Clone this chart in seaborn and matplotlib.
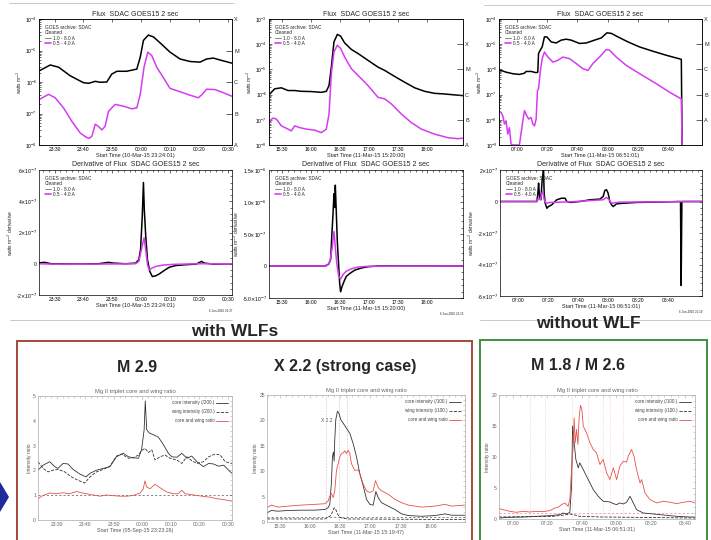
import numpy as np
import pandas as pd
import matplotlib.pyplot as plt
import seaborn as sns
from matplotlib.patches import Rectangle, Polygon
from matplotlib.lines import Line2D
from matplotlib.ticker import AutoMinorLocator

sns.set_theme(style="white")
plt.rcParams['font.family'] = ['Liberation Sans', 'DejaVu Sans']

W, H = 711, 540

# ---------------- GOES flux (W m^-2), time in minutes after the start hour ----------------
# M2.9, 10-Mar-15 (minutes after 23:00)
t1_hi = [24.8, 28.5, 31.4, 35.4, 40.0, 41.8, 44.1, 45.8, 48.1, 49.8, 51.6, 55.0, 58.5,
         59.7, 60.8, 62.5, 64.3, 66.6, 70.0, 73.5, 77.0, 80.4, 82.7, 85.0, 87.3, 91.4]
f1_hi = [2.29e-6, 3.47e-6, 2.95e-6, 1.58e-6, 9.5e-7, 9.1e-7, 1.05e-6, 9.8e-7, 1.0e-6,
         1.78e-6, 2.19e-6, 2.19e-6, 2.57e-6, 6.17e-6, 2.09e-5, 3.09e-5, 2.69e-5, 1.74e-5,
         8.9e-6, 5.37e-6, 4.47e-6, 4.27e-6, 5.37e-6, 5.75e-6, 5.01e-6, 3.98e-6]
t1_lo = [24.8, 27.9, 30.2, 33.1, 36.0, 38.9, 40.6, 41.8, 42.9, 44.1, 45.2, 46.4, 47.5,
         48.7, 51.0, 53.9, 56.8, 58.5, 59.7, 61.0, 62.3, 63.7, 65.4, 67.7, 70.0, 73.5,
         77.0, 79.8, 81.0, 82.7, 85.6, 88.5, 91.4]
f1_lo = [2.82e-7, 4.07e-7, 3.16e-7, 1.51e-7, 5.6e-8, 2.4e-8, 1.86e-8, 1.62e-8, 1.86e-8,
         4.57e-8, 3.89e-8, 3.02e-8, 3.89e-8, 1.17e-7, 1.95e-7, 1.70e-7, 1.41e-7, 1.51e-7,
         4.07e-7, 2.95e-6, 8.9e-6, 6.9e-6, 2.95e-6, 1.38e-6, 6.3e-7, 4.9e-7, 3.8e-7,
         3.16e-7, 3.9e-7, 5.9e-7, 5.75e-7, 4.57e-7, 3.55e-7]

# X2.2, 11-Mar-15 (minutes after 15:00)
t2_hi = [16.2, 22.1, 29.0, 35.9, 42.8, 49.7, 60.0, 70.3, 75.5, 78.3, 80.7, 83.4, 86.9,
         90.3, 94.5, 101.4, 108.3, 118.6, 129.0, 135.9, 146.2, 156.6, 166.9, 177.2,
         187.6, 196.2, 216.9]
f2_hi = [9.8e-7, 1.70e-6, 1.86e-6, 1.45e-6, 1.45e-6, 1.35e-6, 1.32e-6, 1.23e-6, 1.35e-6,
         2.29e-6, 1.23e-5, 1.23e-4, 2.45e-4, 2.09e-4, 1.12e-4, 6.2e-5, 4.27e-5, 2.29e-5,
         1.23e-5, 9.1e-6, 5.25e-6, 3.09e-6, 1.86e-6, 1.35e-6, 1.12e-6, 1.07e-6, 9.1e-7]
t2_lo = [16.2, 20.3, 23.8, 29.0, 35.9, 39.3, 42.8, 47.9, 54.8, 63.4, 70.3, 75.5, 78.3,
         80.7, 83.4, 86.9, 90.3, 94.5, 101.4, 108.3, 118.6, 129.0, 135.9, 142.8, 153.1,
         163.4, 173.8, 187.6, 201.4, 211.7, 216.9]
f2_lo = [8.5e-8, 1.17e-7, 1.07e-7, 5.75e-8, 4.27e-8, 3.63e-8, 5.75e-8, 4.9e-8, 4.27e-8,
         3.89e-8, 3.09e-8, 4.27e-8, 1.70e-7, 6.76e-6, 4.9e-5, 9.1e-5, 6.76e-5, 3.09e-5,
         1.07e-5, 5.75e-6, 2.29e-6, 7.76e-7, 6.76e-7, 4.27e-7, 1.70e-7, 7.76e-8, 4.27e-8,
         2.69e-8, 1.95e-8, 1.78e-8, 1.86e-8]

# M1.8 / M2.6, 11-Mar-15 (minutes after 06:00)
t3_hi = [47.8, 52.7, 57.1, 61.5, 64.9, 66.0, 69.3, 72.6, 73.7, 74.2, 75.3, 76.6, 78.1,
         79.7, 82.6, 85.9, 89.2, 92.5, 95.8, 101.4, 105.8, 111.3, 115.8, 119.5, 122.4,
         126.8, 133.5, 141.2, 150.0, 158.9, 168.8, 169.3]
f3_hi = [9.8e-7, 7.76e-7, 6.76e-7, 6.31e-7, 7.08e-7, 8.3e-7, 8.3e-7, 7.41e-7, 7.76e-7,
         4.27e-6, 5.75e-6, 7.76e-6, 1.95e-5, 1.95e-5, 1.23e-5, 1.12e-5, 1.45e-5, 1.58e-5,
         1.45e-5, 1.07e-5, 1.12e-5, 1.45e-5, 1.78e-5, 2.82e-5, 2.69e-5, 1.95e-5, 1.23e-5,
         7.76e-6, 5.25e-6, 3.63e-6, 2.51e-6, 1.0e-9]
t3_lo = [47.8, 49.4, 50.5, 51.6, 52.7, 53.8, 54.9, 56.0, 57.1, 59.3, 61.5, 63.8, 64.9,
         66.4, 67.7, 69.3, 70.4, 71.5, 72.6, 73.5, 74.2, 75.3, 76.6, 78.1, 80.4, 83.7,
         87.0, 90.3, 94.7, 99.2, 103.6, 106.9, 110.2, 114.6, 119.1, 121.3, 125.7, 132.3,
         141.2, 152.3, 161.1, 168.8, 169.3]
f3_lo = [2.29e-8, 1.95e-8, 1.45e-8, 6.8e-9, 9.1e-9, 2.7e-9, 4.9e-9, 1.07e-9, 1e-9, 1e-9,
         1e-9, 9.1e-9, 2.29e-8, 1.45e-8, 1.07e-8, 1.23e-8, 6.8e-9, 5.75e-9, 1.07e-8,
         1.45e-7, 1.70e-7, 7.76e-7, 2.69e-6, 4.9e-6, 3.09e-6, 1.95e-6, 2.29e-6, 3.09e-6,
         2.69e-6, 1.70e-6, 1.07e-6, 9.1e-7, 1.70e-6, 3.09e-6, 6.17e-6, 5.75e-6, 3.09e-6,
         1.45e-6, 6.76e-7, 2.69e-7, 1.23e-7, 6.76e-8, 1e-9]

# ---------------- flux derivatives (units of 1e-7 W m^-2 s^-1) ----------------
d1t_hi = [23.9, 26.5, 28.8, 33.5, 39.4, 45.2, 48.7, 50.5, 54.6, 58.1, 59.2, 59.8, 60.4,
          60.8, 61.1, 61.6, 62.2, 63.0, 63.9, 65.1, 66.3, 68.0, 69.8, 72.1, 75.6, 79.1,
          80.9, 82.0, 85.0, 91.6]
d1_hi = [0.04, 0.09, 0.0, -0.02, -0.02, 0.0, 0.09, 0.04, 0.0, 0.04, 0.26, 0.9, 3.05, 5.2,
         3.48, 1.76, 0.26, -0.49, -0.82, -0.77, -0.65, -0.43, -0.22, -0.11, -0.06, -0.02,
         0.15, 0.04, -0.02, 0.0]
d1t_lo = [23.9, 33.5, 45.2, 58.1, 59.2, 60.1, 61.0, 61.6, 62.2, 62.8, 63.7, 65.1, 67.4,
          70.9, 80.2, 91.6]
d1_lo = [0.0, -0.04, -0.02, 0.0, 0.15, 0.9, 1.66, 0.9, -0.06, -0.39, -0.28, -0.17, -0.09,
         -0.04, 0.0, 0.0]

d2t_hi = [16.2, 49.7, 73.8, 77.9, 80.0, 81.4, 82.4, 83.4, 84.1, 84.8, 85.9, 86.9, 88.3,
          89.3, 90.3, 91.7, 93.8, 96.2, 99.7, 104.8, 111.7, 118.6, 129.0, 216.9]
d2_hi = [0.0, 0.0, 0.0, 0.27, 1.08, 5.38, 8.06, 11.29, 9.14, 12.63, 8.06, 3.76, 0.0,
         -2.69, -4.03, -3.23, -2.42, -1.61, -1.18, -0.65, -0.32, -0.11, 0.0, 0.0]
d2t_lo = [16.2, 75.5, 79.0, 81.4, 83.4, 84.8, 86.2, 88.3, 90.3, 92.8, 96.2, 101.4, 108.3,
          118.6, 216.9]
d2_lo = [0.0, 0.0, 0.54, 2.69, 5.38, 2.96, 0.54, -1.61, -2.04, -1.34, -0.81, -0.43,
         -0.16, -0.05, 0.0]

d3t_hi = [48.3, 72.6, 73.2, 73.7, 74.3, 75.2, 76.1, 77.0, 77.4, 78.1, 79.2, 80.3, 82.5,
          85.8, 89.1, 91.3, 92.5, 94.7, 101.3, 107.9, 114.5, 116.7, 117.8, 118.9, 120.0,
          121.1, 122.3, 123.4, 125.6, 130.0, 138.8, 149.8, 160.9, 167.5, 168.2, 168.6,
          169.1, 182.3]
d3_hi = [0.0, 0.0, 0.53, 1.17, 0.32, 0.11, 1.39, 2.03, 0.53, -0.11, -0.43, -0.32, -0.21,
         0.11, 0.21, 0.21, 0.0, -0.06, 0.0, 0.11, 0.15, 0.32, 0.70, 0.75, 0.53, 0.0,
         -0.21, -0.32, -0.15, -0.11, -0.06, -0.04, -0.02, 0.0, 0.0, -5.33, 0.0, 0.0]
d3t_lo = [48.3, 72.6, 73.7, 74.8, 75.9, 76.6, 77.4, 78.8, 81.5, 94.7, 116.7, 118.9, 120.7,
          122.3, 127.8, 182.3]
d3_lo = [0.0, 0.0, 0.21, 0.11, 0.53, 0.64, 0.11, -0.11, -0.06, -0.02, 0.11, 0.26, 0.11,
         -0.11, -0.04, 0.0]

# ---------------- IRIS Mg II triplet curves ----------------
# M2.9, 05-Sep-15 (minutes after 23:00)
m1t_core = [23.4, 25.2, 27.5, 29.3, 30.4, 32.2, 33.9, 35.7, 38.1, 40.2, 41.6, 43.9, 46.3,
            48.6, 50.9, 53.3, 55.1, 56.8, 58.6, 59.7, 60.6, 61.0, 61.5, 62.4, 63.8, 65.6,
            67.4, 69.1, 70.3, 72.1, 73.8, 75.6, 77.3, 79.1, 81.4, 83.2, 84.9, 86.7, 88.5,
            90.2, 91.4]
m1_core = [2.01, 2.21, 2.35, 2.15, 2.08, 2.28, 2.26, 2.04, 1.85, 1.74, 1.88, 2.01, 2.08,
           2.15, 2.55, 2.69, 2.55, 2.51, 2.49, 2.83, 3.64, 4.80, 3.64, 3.51, 3.44, 3.34,
           3.03, 2.69, 2.55, 2.53, 2.69, 2.49, 2.58, 2.35, 2.15, 2.28, 2.26, 2.17, 2.21,
           2.01, 1.88]
m1t_wing = [23.4, 25.2, 26.9, 28.7, 30.4, 32.8, 35.1, 37.5, 39.8, 41.6, 43.9, 46.3, 48.6,
            50.9, 52.7, 55.1, 56.8, 58.6, 59.7, 60.9, 62.1, 63.3, 64.4, 66.2, 67.9, 69.7,
            72.1, 73.8, 75.6, 77.3, 79.1, 81.4, 83.2, 85.5, 87.3, 89.0, 91.4]
m1_wing = [2.35, 2.08, 1.94, 2.01, 2.04, 1.94, 1.74, 1.60, 1.49, 1.74, 1.94, 2.04, 2.17,
           2.58, 2.66, 2.49, 2.51, 2.62, 2.80, 2.89, 2.72, 2.83, 2.42, 2.55, 2.62, 2.49,
           2.42, 2.28, 2.55, 2.39, 2.28, 2.35, 2.55, 2.66, 2.62, 2.35, 2.28]
m1t_ratio = [23.4, 25.2, 27.5, 29.8, 32.2, 34.5, 36.9, 38.6, 40.4, 42.7, 45.1, 47.4, 49.8,
             52.1, 54.5, 56.8, 59.2, 60.3, 60.9, 61.5, 62.7, 64.4, 66.2, 68.5, 70.9, 72.6,
             73.8, 75.0, 76.7, 79.1, 81.4, 83.8, 86.1, 88.5, 91.4]
m1_ratio = [0.86, 0.99, 1.09, 1.06, 1.10, 1.06, 1.15, 1.10, 1.06, 1.01, 0.96, 1.01, 0.98,
            0.96, 0.96, 0.99, 1.09, 1.26, 1.58, 1.33, 1.26, 1.44, 1.30, 1.13, 1.06, 1.06,
            1.20, 1.06, 1.03, 0.99, 0.95, 0.92, 0.86, 0.82, 0.76]

# X2.2, 11-Mar-15 (minutes after 15:00)
m2t_core = [17.4, 21.7, 28.3, 38.3, 51.5, 64.8, 74.7, 78.0, 79.7, 81.3, 82.3, 83.3, 84.0,
            84.6, 85.6, 87.3, 88.6, 90.6, 92.9, 96.2, 99.5, 102.8, 106.2, 109.5, 112.8,
            116.1, 119.4, 122.7, 125.4, 127.7, 131.0, 137.6, 144.2, 150.9, 157.5, 170.7,
            184.0, 193.9, 200.5, 213.8]
m2_core = [1.8, 2.27, 2.13, 2.27, 2.33, 2.33, 2.47, 2.8, 3.47, 7.8, 12.8, 13.8, 12.0,
           16.13, 20.13, 21.8, 21.47, 20.13, 19.47, 18.47, 17.47, 15.47, 12.8, 9.47, 7.13,
           4.47, 3.47, 3.33, 6.0, 4.8, 3.8, 3.13, 2.47, 1.6, 1.27, 1.13, 1.27, 1.6, 1.33,
           1.33]
m2t_wing = [17.4, 74.7, 79.7, 82.0, 84.0, 85.6, 87.3, 88.6, 91.3, 97.9, 213.8]
m2_wing = [0.6, 0.6, 1.13, 1.8, 2.8, 2.47, 1.6, 1.13, 0.8, 0.6, 0.47]
m2t_ratio = [17.4, 21.7, 28.3, 38.3, 51.5, 64.8, 74.7, 78.0, 79.7, 81.3, 83.0, 84.6, 86.3,
             87.9, 89.6, 91.3, 92.9, 94.6, 96.2, 97.9, 99.5, 101.2, 104.5, 107.8, 109.5,
             112.8, 116.1, 119.4, 122.7, 125.0, 127.7, 131.0, 137.6, 144.2, 150.9, 157.5,
             170.7, 184.0, 193.9, 200.5, 213.8]
m2_ratio = [2.8, 3.33, 2.93, 3.13, 3.33, 3.47, 3.6, 4.13, 5.13, 5.6, 4.8, 6.13, 10.13,
            11.47, 12.8, 13.47, 13.6, 14.0, 13.47, 14.13, 13.47, 11.47, 10.13, 10.27, 9.47,
            7.47, 6.13, 5.8, 6.13, 8.13, 6.8, 6.13, 5.47, 4.47, 3.8, 3.33, 2.93, 3.13, 3.47,
            3.13, 3.33]

# M1.8 / M2.6, 11-Mar-15 (minutes after 06:00)
m3t_core = [51.8, 58.1, 65.8, 73.6, 81.4, 87.2, 89.1, 91.1, 93.0, 94.0, 94.6, 95.3, 96.5,
            97.9, 98.8, 100.8, 102.7, 104.7, 106.6, 109.5, 112.4, 116.3, 118.3, 120.2,
            122.1, 124.1, 126.0, 128.0, 129.9, 131.8, 135.7, 141.6, 147.4, 155.1, 162.9,
            165.8]
m3_core = [0.16, 0.27, 0.32, 0.43, 0.54, 0.70, 0.97, 0.81, 1.08, 5.28, 14.99, 12.83, 9.60,
           8.25, 9.06, 7.98, 6.90, 5.82, 4.74, 3.67, 2.86, 2.75, 2.48, 2.32, 2.59, 2.43,
           2.70, 3.67, 2.59, 1.51, 0.97, 0.81, 0.65, 0.43, 0.32, 0.32]
m3t_wing = [51.8, 83.3, 91.1, 93.0, 95.0, 98.8, 112.4, 165.8]
m3_wing = [0.32, 0.43, 0.70, 0.81, 0.70, 0.43, 0.32, 0.16]
m3t_ratio = [51.8, 54.2, 58.1, 61.9, 65.8, 69.7, 73.6, 77.5, 81.4, 84.3, 86.2, 88.2, 90.1,
             92.0, 93.0, 94.0, 95.0, 95.5, 96.1, 96.9, 97.7, 98.4, 99.2, 100.0, 100.8,
             102.7, 104.7, 106.6, 108.5, 110.5, 112.4, 114.4, 116.3, 118.3, 120.2, 122.1,
             124.1, 126.0, 127.0, 128.9, 130.3, 131.8, 133.8, 134.8, 136.7, 139.6, 143.5,
             147.4, 151.3, 155.1, 159.0, 162.9, 165.8]
m3_ratio = [1.67, 1.51, 1.24, 1.08, 1.24, 1.13, 1.24, 1.19, 1.35, 1.78, 1.89, 2.32, 2.59,
            2.05, 3.13, 7.98, 12.02, 16.33, 12.29, 14.45, 12.02, 16.33, 18.33, 17.68, 14.99,
            13.91, 12.29, 11.21, 10.67, 8.79, 9.60, 7.44, 6.36, 8.25, 6.36, 8.52, 9.33,
            9.16, 10.13, 11.21, 10.13, 7.98, 5.82, 6.36, 4.20, 3.13, 2.59, 2.86, 2.70, 2.48,
            2.70, 2.86, 2.59]

# ---------------- axis annotations ----------------
col_ticks = [[30, 40, 50, 60, 70, 80, 90],
             [30, 60, 90, 120, 150, 180],
             [60, 80, 100, 120, 140, 160]]
col_labels = [['23:30', '23:40', '23:50', '00:00', '00:10', '00:20', '00:30'],
              ['15:30', '16:00', '16:30', '17:00', '17:30', '18:00'],
              ['07:00', '07:20', '07:40', '08:00', '08:20', '08:40']]
goes_xlim = [(24.6, 91.5), (16.2, 216.9), (48.0, 182.5)]
goes_ylim = [(1e-8, 1e-4), (1e-8, 1e-3), (1e-9, 1e-4)]
goes_start = ['10-Mar-15 23:24:01', '11-Mar-15 15:20:00', '11-Mar-15 06:51:01']
class_levels = [1e-8, 1e-7, 1e-6, 1e-5, 1e-4]
class_letters = ['A', 'B', 'C', 'M', 'X']

deriv_ticks = [[-2, 0, 2, 4, 6], [-5, 0, 5, 10, 15], [-6, -4, -2, 0, 2]]
deriv_ticklabels = [[r'-2$\times$10$^{-7}$', '0', r'2$\times$10$^{-7}$', r'4$\times$10$^{-7}$', r'6$\times$10$^{-7}$'],
                    [r'-5.0$\times$10$^{-7}$', '0', r'5.0$\times$10$^{-7}$', r'1.0$\times$10$^{-6}$', r'1.5$\times$10$^{-6}$'],
                    [r'-6$\times$10$^{-7}$', r'-4$\times$10$^{-7}$', r'-2$\times$10$^{-7}$', '0', r'2$\times$10$^{-7}$']]
deriv_stamp = ['6-Jun-2016 21:37', '6-Jun-2016 21:15', '6-Jun-2016 21:19']

mg_xlim = [(23.4, 91.4), (17.4, 213.8), (51.8, 165.8)]
mg_yticks = [[0, 1, 2, 3, 4, 5], [0, 5, 10, 15, 20, 25], [0, 5, 10, 15, 20]]
mg_start = ['05-Sep-15 23:23:26', '11-Mar-15 15:19:47', '11-Mar-15 06:51:31']
mg_scale = ['200.', '100.', '100.']
mg_titles = ['M 2.9', 'X 2.2 (strong case)', 'M 1.8 / M 2.6']
mg_vlines = [[], [76.4, 88.9, 96.9], [70.1, 78.4, 94.0, 103.7, 112.0, 116.3, 124.1]]

MAGENTA = '#d53cf2'
RED = '#e8504a'

fig = plt.figure(figsize=(W / 100, H / 100), dpi=100)


def box(x0, y0, x1, y1):
    return [x0 / W, 1 - y1 / H, (x1 - x0) / W, (y1 - y0) / H]


def idl(ax, edge='black', lab='black'):
    ax.tick_params(direction='in', which='both', top=True, right=True, labelsize=3.6,
                   length=2.5, width=0.4, pad=1.5, colors=edge, labelcolor=lab)
    ax.tick_params(which='minor', length=1.3)
    for s in ax.spines.values():
        s.set_linewidth(0.5)
        s.set_color(edge)


def line(ax, t, v, **kw):
    sns.lineplot(x=t, y=v, ax=ax, estimator=None, sort=False, **kw)


def goes_legend(ax):
    h, l = ax.get_legend_handles_labels()
    h = [Line2D([], [], color='#555555', lw=0.5), Line2D([], [], color=MAGENTA, lw=1.2)]
    ax.legend(h, l, title='GOES archive: SDAC\nCleaned', loc='upper left', frameon=False,
              fontsize=3.4, title_fontsize=3.4, alignment='left', handlelength=1.3,
              labelspacing=0.05, borderaxespad=0.8, handletextpad=0.5)


goes_boxes = [box(39, 19, 232, 145), box(269, 19, 463, 145), box(499, 19, 702, 145)]
deriv_boxes = [box(39, 170, 232, 295), box(269, 170, 463, 298), box(500, 170, 702, 296)]
mg_boxes = [box(38, 396, 232, 520), box(267, 395, 465, 522), box(499, 395, 695, 519)]

goes_data = [(t1_hi, f1_hi, t1_lo, f1_lo), (t2_hi, f2_hi, t2_lo, f2_lo),
             (t3_hi, f3_hi, t3_lo, f3_lo)]
deriv_data = [(d1t_hi, d1_hi, d1t_lo, d1_lo), (d2t_hi, d2_hi, d2t_lo, d2_lo),
              (d3t_hi, d3_hi, d3t_lo, d3_lo)]
mg_data = [(m1t_core, m1_core, m1t_wing, m1_wing, m1t_ratio, m1_ratio),
           (m2t_core, m2_core, m2t_wing, m2_wing, m2t_ratio, m2_ratio),
           (m3t_core, m3_core, m3t_wing, m3_wing, m3t_ratio, m3_ratio)]

for i in range(3):
    # ---- flux ----
    ax = fig.add_axes(goes_boxes[i])
    th, fh, tl, fl = goes_data[i]
    line(ax, th, fh, color='black', lw=1.1, label='1.0 - 8.0 A')
    line(ax, tl, fl, color=MAGENTA, lw=1.1, label='0.5 - 4.0 A')
    ax.set_yscale('log')
    ax.set_ylim(*goes_ylim[i])
    ax.set_xlim(*goes_xlim[i])
    ax.set_xticks(col_ticks[i])
    ax.set_xticklabels(col_labels[i])
    ax.xaxis.set_minor_locator(AutoMinorLocator(5))
    ax.set_title('Flux  SDAC GOES15 2 sec', fontsize=5, pad=2)
    ax.set_xlabel('Start Time (%s)' % goes_start[i], fontsize=4, labelpad=0.5)
    ax.set_ylabel(r'watts m$^{-2}$', fontsize=3.5, labelpad=1)
    idl(ax)
    goes_legend(ax)
    ax2 = ax.twinx()
    ax2.set_yscale('log')
    ax2.set_ylim(*goes_ylim[i])
    ax2.set_yticks(class_levels)
    ax2.set_yticklabels(class_letters)
    ax2.minorticks_off()
    ax2.tick_params(direction='in', labelsize=4, length=4, width=0.5, pad=1.5)
    ax2.grid(False)
    for s in ax2.spines.values():
        s.set_linewidth(0.5)
        s.set_color('black')

    # ---- derivative ----
    ax = fig.add_axes(deriv_boxes[i])
    th, dh, tl, dl = deriv_data[i]
    line(ax, th, np.array(dh) * 1e-7, color='black', lw=1.1, label='1.0 - 8.0 A')
    line(ax, tl, np.array(dl) * 1e-7, color=MAGENTA, lw=1.1, label='0.5 - 4.0 A')
    yt = np.array(deriv_ticks[i]) * 1e-7
    ax.set_ylim(yt[0], yt[-1])
    ax.set_yticks(yt)
    ax.set_yticklabels(deriv_ticklabels[i])
    ax.yaxis.set_minor_locator(AutoMinorLocator(5))
    ax.set_xlim(*goes_xlim[i])
    ax.set_xticks(col_ticks[i])
    ax.set_xticklabels(col_labels[i])
    ax.xaxis.set_minor_locator(AutoMinorLocator(5))
    ax.set_title('Derivative of Flux  SDAC GOES15 2 sec', fontsize=5, pad=3)
    ax.set_xlabel('Start Time (%s)' % goes_start[i], fontsize=4, labelpad=0.5)
    ax.set_ylabel(r'watts m$^{-2}$ derivative', fontsize=3.5, labelpad=0.5)
    idl(ax)
    goes_legend(ax)
    ax.text(1.0, -0.11, deriv_stamp[i], transform=ax.transAxes, fontsize=2.2,
            ha='right', va='top')

    # ---- Mg II ----
    ax = fig.add_axes(mg_boxes[i])
    tc, vc, tw, vw, tr, vr = mg_data[i]
    for xv in mg_vlines[i]:
        ax.axvline(xv, color='#f0b0b0' if i == 2 else '#999999', lw=0.4, ls=':')
    ax.axhline(1.0, color='#f08080' if i == 2 else '#555555', lw=0.5, ls=(0, (3, 3)))
    line(ax, tc, vc, color='#333333', lw=0.6, label='core intensity (/%s)' % mg_scale[i])
    line(ax, tw, vw, color='#333333', lw=0.6, ls='--', label='wing intensity (/%s)' % mg_scale[i])
    line(ax, tr, vr, color=RED, lw=0.6, label='core and wing ratio')
    ax.set_xlim(*mg_xlim[i])
    ax.set_ylim(mg_yticks[i][0], mg_yticks[i][-1])
    ax.set_yticks(mg_yticks[i])
    ax.set_xticks(col_ticks[i])
    ax.set_xticklabels(col_labels[i])
    ax.xaxis.set_minor_locator(AutoMinorLocator(5))
    ax.yaxis.set_minor_locator(AutoMinorLocator(5))
    ax.set_title('Mg II triplet core and wing ratio', fontsize=4.2, pad=2, color='#666666')
    ax.set_xlabel('Start Time (%s)' % mg_start[i], fontsize=3.8, labelpad=0.5, color='#555555')
    ax.set_ylabel('Intensity ratio', fontsize=3.5, labelpad=1, color='#555555')
    idl(ax, edge='#aaaaaa', lab='#666666')
    ax.legend(loc='upper right', frameon=False, fontsize=3.3, markerfirst=False,
              handlelength=2.6, labelspacing=0.9, borderaxespad=0.5, handletextpad=0.3,
              labelcolor='#444444')
    if i == 1:
        ax.text(76.4, 20, 'X 2.2', fontsize=3.5, ha='center', va='center', color='#555555',
                bbox=dict(fc='white', ec='none', pad=0.3))

# ---------------- slide decorations ----------------
title_pos = [(137, 367), (345, 366), (578, 366)]
for (x, y), s in zip(title_pos, mg_titles):
    fig.text(x / W, 1 - y / H, s, ha='center', va='center', fontsize=11.5, fontweight='bold')
fig.text(235 / W, 1 - 332 / H, 'with WLFs', ha='center', va='center', fontsize=12.5, fontweight='bold')
fig.text(588 / W, 1 - 323 / H, 'without WLF', ha='center', va='center', fontsize=12.5, fontweight='bold')

fig.patches.append(Rectangle((17 / W, -0.02), (472 - 17) / W, 1 - 341 / H + 0.02,
                             transform=fig.transFigure, fill=False, ec='#a5473b', lw=1.4))
fig.patches.append(Rectangle((480 / W, -0.02), (707 - 480) / W, 1 - 340 / H + 0.02,
                             transform=fig.transFigure, fill=False, ec='#3f8f3f', lw=1.4))
fig.patches.append(Polygon([(0, 1 - 482 / H), (9 / W, 1 - 497 / H), (0, 1 - 512 / H)],
                           closed=True, transform=fig.transFigure, fc='#1f2a9e', ec='none'))
for x0, x1, y in [(9, 234, 3), (484, 711, 5), (10, 232, 320), (480, 711, 320)]:
    fig.add_artist(Line2D([x0 / W, x1 / W], [1 - y / H, 1 - y / H], color='#c0c0c0', lw=0.6))

fig.savefig('out.png', dpi=100)
